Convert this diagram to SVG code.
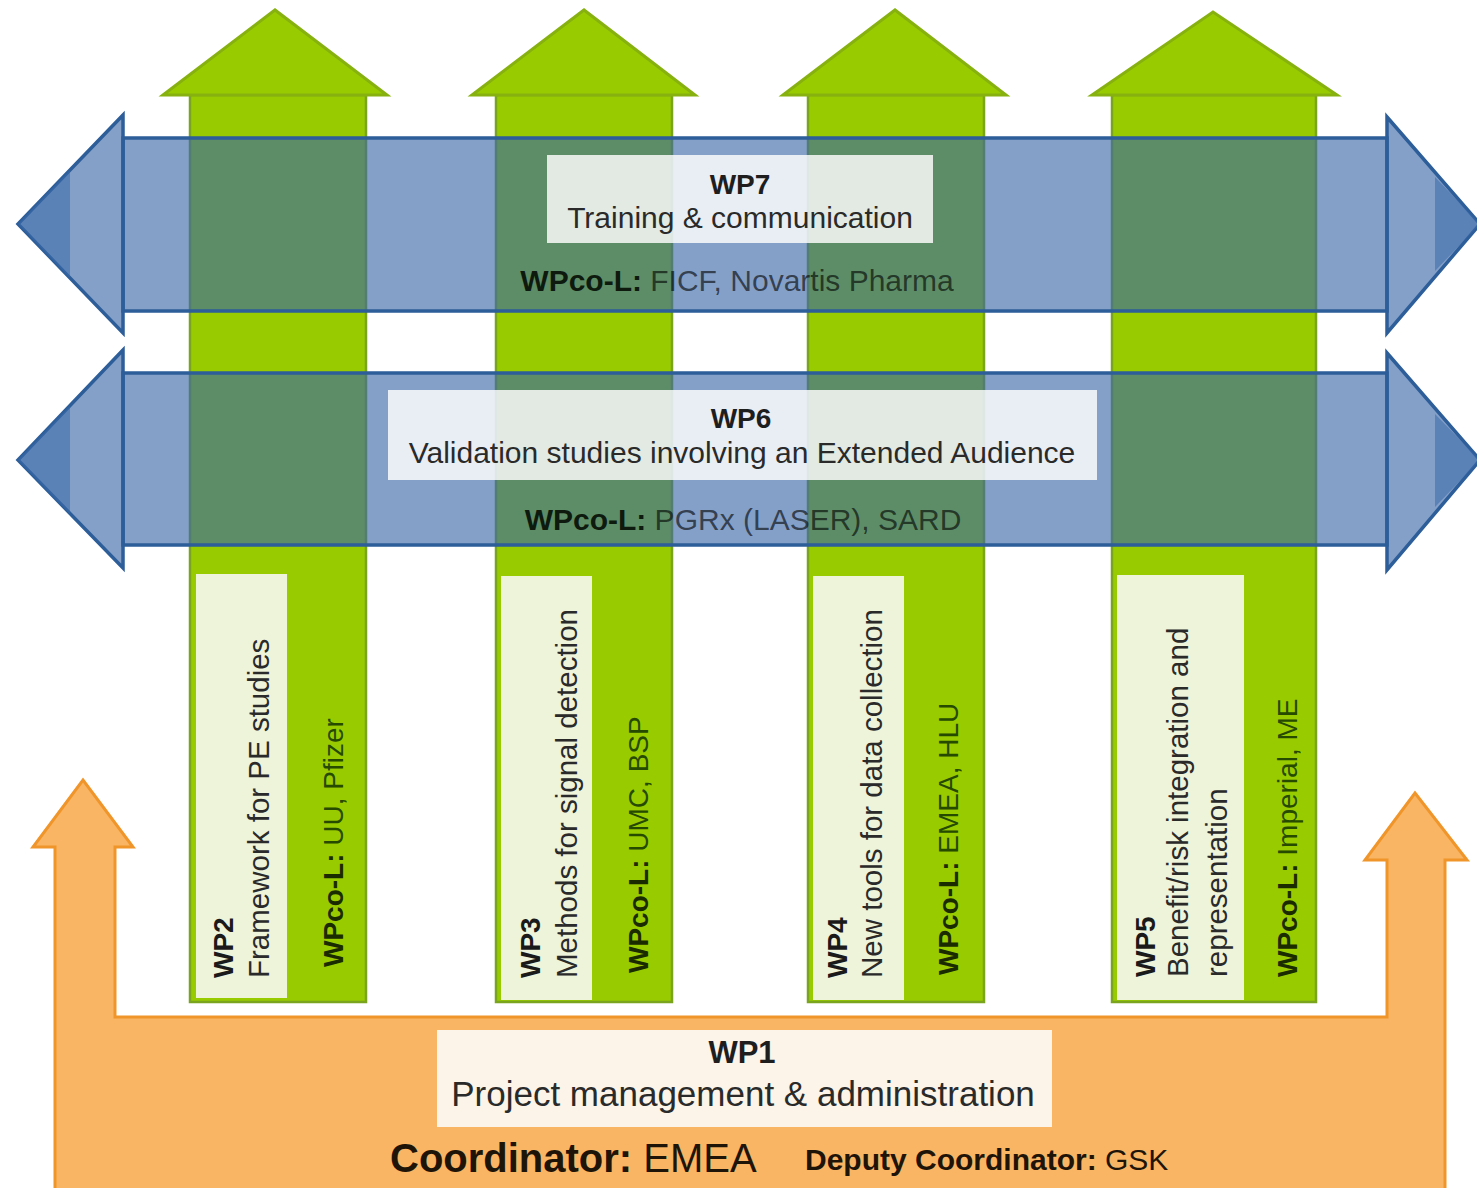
<svg xmlns="http://www.w3.org/2000/svg" width="1477" height="1188" viewBox="0 0 1477 1188">
<style>
text{font-family:"Liberation Sans",Arial,sans-serif;}
.shaft{fill:#99cc00;stroke:#7aa31e;stroke-width:2.5;}
.head{fill:#99cc00;stroke:#86b10e;stroke-width:3;stroke-linejoin:miter;}
.lbox{fill:#eef4da;}
.band{fill:#3866a6;fill-opacity:0.62;stroke:#2d5e99;stroke-width:3.5;}
.tip{fill:#3a6aaa;fill-opacity:0.55;}
.tbox{fill:#ffffff;fill-opacity:0.82;}
.b{font-weight:bold;}
.ct{fill:#2a2a2a;font-size:29.5px;}
.cb{fill:#1a1a1a;font-size:28px;font-weight:bold;}
.lead{font-size:28px;}
.lead .b{fill:#1b2b00;}
.lead .r{fill:#264a00;}
.bl{font-size:30px;}
.bl .b{fill:#0d1a0d;}
.bl .r{fill:#000;fill-opacity:0.62;}
.orange{fill:#f9b563;stroke:#f0952a;stroke-width:3;}
</style>

<g id="wp2">
<rect class="shaft" x="190" y="95" width="176" height="907"/>
<polygon class="head" points="163,95 275,10 387,95"/>
<rect class="lbox" x="196" y="574" width="91" height="424"/>
<text class="cb" transform="translate(233,978) rotate(-90)">WP2</text>
<text class="ct" transform="translate(269,978) rotate(-90)">Framework for PE studies</text>
<text class="lead" transform="translate(343,967) rotate(-90)"><tspan class="b">WPco-L:</tspan><tspan class="r"> UU, Pfizer</tspan></text>
</g>

<g id="wp3">
<rect class="shaft" x="496" y="95" width="176" height="907"/>
<polygon class="head" points="472,95 584,10 695,95"/>
<rect class="lbox" x="501" y="576" width="91" height="424"/>
<text class="cb" transform="translate(540,978) rotate(-90)">WP3</text>
<text class="ct" transform="translate(577,978) rotate(-90)">Methods for signal detection</text>
<text class="lead" transform="translate(648,973) rotate(-90)"><tspan class="b">WPco-L:</tspan><tspan class="r"> UMC, BSP</tspan></text>
</g>

<g id="wp4">
<rect class="shaft" x="808" y="95" width="176" height="907"/>
<polygon class="head" points="783,95 895,10 1006,95"/>
<rect class="lbox" x="813" y="576" width="91" height="424"/>
<text class="cb" transform="translate(847,978) rotate(-90)">WP4</text>
<text class="ct" transform="translate(882,978) rotate(-90)">New tools for data collection</text>
<text class="lead" transform="translate(958,975) rotate(-90)"><tspan class="b">WPco-L:</tspan><tspan class="r"> EMEA, HLU</tspan></text>
</g>

<g id="wp5">
<rect class="shaft" x="1112" y="95" width="204" height="907"/>
<polygon class="head" points="1092,95 1213,12 1337,95"/>
<rect class="lbox" x="1117" y="575" width="127" height="425"/>
<text class="cb" transform="translate(1155,977) rotate(-90)">WP5</text>
<text class="ct" transform="translate(1188,977) rotate(-90)">Benefit/risk integration and</text>
<text class="ct" transform="translate(1227,977) rotate(-90)">representation</text>
<text class="lead" transform="translate(1297,977) rotate(-90)"><tspan class="b">WPco-L:</tspan><tspan class="r"> Imperial, ME</tspan></text>
</g>

<g id="wp7">
<rect class="band" x="123" y="138" width="1264" height="173"/>
<polygon class="band" points="123,115 18,224 123,333"/>
<polygon class="tip" points="18,224 70,170 70,278"/>
<polygon class="band" points="1387,117 1480,224 1387,333"/>
<polygon class="tip" points="1480,224 1435,177 1435,271"/>
<rect class="tbox" x="547" y="155" width="386" height="88"/>
<text class="b" x="740" y="194" text-anchor="middle" font-size="28" fill="#1e1e1e">WP7</text>
<text x="740" y="228" text-anchor="middle" font-size="30" fill="#2a2a2a">Training &amp; communication</text>
<text class="bl" x="737" y="291" text-anchor="middle"><tspan class="b">WPco-L:</tspan><tspan class="r"> FICF, Novartis Pharma</tspan></text>
</g>

<g id="wp6">
<rect class="band" x="123" y="373" width="1264" height="172"/>
<polygon class="band" points="123,350 18,460 123,568"/>
<polygon class="tip" points="18,460 70,406 70,514"/>
<polygon class="band" points="1387,353 1480,460 1387,570"/>
<polygon class="tip" points="1480,460 1435,414 1435,507"/>
<rect class="tbox" x="388" y="390" width="709" height="90"/>
<text class="b" x="741" y="428" text-anchor="middle" font-size="28" fill="#1e1e1e">WP6</text>
<text x="742" y="463" text-anchor="middle" font-size="30" fill="#2a2a2a">Validation studies involving an Extended Audience</text>
<text class="bl" x="743" y="530" text-anchor="middle"><tspan class="b">WPco-L:</tspan><tspan class="r"> PGRx (LASER), SARD</tspan></text>
</g>

<g id="wp1">
<polygon class="orange" points="55,1192 55,847 33,847 83,780 133,847 115,847 115,1017 1387,1017 1387,860 1365,860 1415,793 1467,860 1445,860 1445,1192"/>
<rect x="437" y="1030" width="615" height="97" fill="#fcf4e8"/>
<text class="b" x="742" y="1063" text-anchor="middle" font-size="31" fill="#1e1e1e">WP1</text>
<text x="743" y="1106" text-anchor="middle" font-size="35" fill="#2a2a2a">Project management &amp; administration</text>
<text x="390" y="1172" font-size="40" fill="#1f1408"><tspan class="b">Coordinator:</tspan><tspan> EMEA</tspan></text>
<text x="805" y="1170" font-size="30" fill="#1f1408"><tspan class="b">Deputy Coordinator:</tspan><tspan> GSK</tspan></text>
</g>
</svg>
